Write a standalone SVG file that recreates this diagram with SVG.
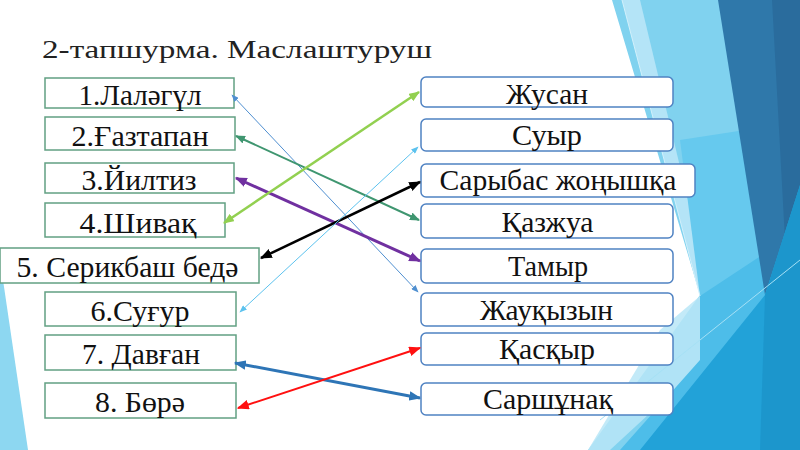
<svg xmlns="http://www.w3.org/2000/svg" width="800" height="450" viewBox="0 0 800 450">
<defs>
<style>
.lbox{fill:#fff;stroke:#62a083;stroke-width:1.5}
.rbox{fill:#fff;stroke:#4f82c2;stroke-width:1.5}
.conn{fill:none}
</style>
<marker id="mBt" viewBox="0 0 10 8" refX="9" refY="4" markerWidth="8" markerHeight="6" markerUnits="userSpaceOnUse" orient="auto-start-reverse"><path d="M0,0L10,4L0,8z" fill="#4f8fd0"/></marker>
<marker id="mLB" viewBox="0 0 10 8" refX="9" refY="4" markerWidth="8" markerHeight="6" markerUnits="userSpaceOnUse" orient="auto-start-reverse"><path d="M0,0L10,4L0,8z" fill="#5cc2ee"/></marker>
<marker id="mDG" viewBox="0 0 10 8" refX="9" refY="4" markerWidth="10" markerHeight="8" markerUnits="userSpaceOnUse" orient="auto-start-reverse"><path d="M0,0L10,4L0,8z" fill="#3f9670"/></marker>
<marker id="mLG" viewBox="0 0 10 8" refX="9" refY="4" markerWidth="11" markerHeight="9" markerUnits="userSpaceOnUse" orient="auto-start-reverse"><path d="M0,0L10,4L0,8z" fill="#92d050"/></marker>
<marker id="mPu" viewBox="0 0 10 8" refX="9" refY="4" markerWidth="12" markerHeight="10" markerUnits="userSpaceOnUse" orient="auto-start-reverse"><path d="M0,0L10,4L0,8z" fill="#7030a0"/></marker>
<marker id="mBk" viewBox="0 0 10 8" refX="9" refY="4" markerWidth="12" markerHeight="10" markerUnits="userSpaceOnUse" orient="auto-start-reverse"><path d="M0,0L10,4L0,8z" fill="#000"/></marker>
<marker id="mBl" viewBox="0 0 10 8" refX="9" refY="4" markerWidth="12" markerHeight="10" markerUnits="userSpaceOnUse" orient="auto-start-reverse"><path d="M0,0L10,4L0,8z" fill="#2e75b6"/></marker>
<marker id="mRd" viewBox="0 0 10 8" refX="9" refY="4" markerWidth="12" markerHeight="10" markerUnits="userSpaceOnUse" orient="auto-start-reverse"><path d="M0,0L10,4L0,8z" fill="#ff1010"/></marker>
</defs>
<rect width="800" height="450" fill="#fff"/>
<g id="background">
<polygon points="0,280 3,280 28,450 0,450" fill="#8dd7f1"/>
<polygon points="612,0 800,0 800,450 588,450 700,295" fill="#80d2ef"/>
<polygon points="622,0 640,0 712,300 700,296" fill="#b4e4f7"/>
<polygon points="680,140 745,130 765,295 700,296" fill="#66c9ee"/>
<polygon points="660,330 700,296 740,330 610,450 588,450" fill="#b8e6f7" opacity="0.85"/>
<polygon points="700,296 800,230 800,450 620,450 700,360" fill="#4dbde9"/>
<polygon points="718,0 800,0 800,190 765,295" fill="#2f78aa"/>
<polygon points="772,0 800,0 800,190 785,240" fill="#2a6c9d"/>
<polygon points="800,185 800,450 640,450 765,295" fill="#22a2d8"/>
<polygon points="765,295 800,185 800,450 760,450" fill="#1c96cc"/>
<polyline points="622,0 700,296" stroke="#d2f0fb" stroke-width="1" fill="none"/>
<polyline points="600,420 800,260" stroke="#a6e0f5" stroke-width="1" fill="none"/>
</g>
<text x="42" y="58" style="font-family:'Liberation Serif','Times New Roman',serif !important;font-size:26px" fill="#222" textLength="390" lengthAdjust="spacingAndGlyphs">2-тапшурма. Маслаштуруш</text>
<g id="nodes">
<g id="l1"><rect class="lbox" x="45" y="78" width="189" height="30"/><text style="font-family:'Liberation Serif','Times New Roman',serif !important;font-size:29px" fill="#111" text-anchor="middle" x="140" y="105" textLength="123" lengthAdjust="spacingAndGlyphs">1.Лаләгүл</text></g>
<g id="l2"><rect class="lbox" x="45" y="117" width="190" height="33"/><text style="font-family:'Liberation Serif','Times New Roman',serif !important;font-size:29px" fill="#111" text-anchor="middle" x="140" y="146" textLength="137" lengthAdjust="spacingAndGlyphs">2.Ғазтапан</text></g>
<g id="l3"><rect class="lbox" x="45" y="163" width="189" height="30"/><text style="font-family:'Liberation Serif','Times New Roman',serif !important;font-size:29px" fill="#111" text-anchor="middle" x="139" y="189.5" textLength="115" lengthAdjust="spacingAndGlyphs">3.Йилтиз</text></g>
<g id="l4"><rect class="lbox" x="45" y="203" width="180" height="34"/><text style="font-family:'Liberation Serif','Times New Roman',serif !important;font-size:29px" fill="#111" text-anchor="middle" x="138" y="232.5" textLength="117" lengthAdjust="spacingAndGlyphs">4.Шивақ</text></g>
<g id="l5"><rect class="lbox" x="0" y="248" width="259" height="35"/><text style="font-family:'Liberation Serif','Times New Roman',serif !important;font-size:29px" fill="#111" text-anchor="middle" x="127.5" y="277" textLength="222" lengthAdjust="spacingAndGlyphs">5. Серикбаш бедә</text></g>
<g id="l6"><rect class="lbox" x="45" y="292" width="191" height="34"/><text style="font-family:'Liberation Serif','Times New Roman',serif !important;font-size:29px" fill="#111" text-anchor="middle" x="140" y="321" textLength="99" lengthAdjust="spacingAndGlyphs">6.Суғур</text></g>
<g id="l7"><rect class="lbox" x="45" y="335" width="191" height="35"/><text style="font-family:'Liberation Serif','Times New Roman',serif !important;font-size:29px" fill="#111" text-anchor="middle" x="141" y="363.5" textLength="118" lengthAdjust="spacingAndGlyphs">7. Давған</text></g>
<g id="l8"><rect class="lbox" x="45" y="383" width="191" height="35"/><text style="font-family:'Liberation Serif','Times New Roman',serif !important;font-size:29px" fill="#111" text-anchor="middle" x="140" y="411.5" textLength="90" lengthAdjust="spacingAndGlyphs">8. Бөрә</text></g>
<g id="r1"><rect class="rbox" x="421" y="77" width="252" height="30" rx="5"/><text style="font-family:'Liberation Serif','Times New Roman',serif !important;font-size:29px" fill="#111" text-anchor="middle" x="547" y="103.5" textLength="82" lengthAdjust="spacingAndGlyphs">Жусан</text></g>
<g id="r2"><rect class="rbox" x="421" y="119" width="252" height="32" rx="5"/><text style="font-family:'Liberation Serif','Times New Roman',serif !important;font-size:29px" fill="#111" text-anchor="middle" x="547" y="145" textLength="70" lengthAdjust="spacingAndGlyphs">Суыр</text></g>
<g id="r3"><rect class="rbox" x="421" y="164" width="274" height="33" rx="5"/><text style="font-family:'Liberation Serif','Times New Roman',serif !important;font-size:29px" fill="#111" text-anchor="middle" x="558" y="190" textLength="237" lengthAdjust="spacingAndGlyphs">Сарыбас жоңышқа</text></g>
<g id="r4"><rect class="rbox" x="421" y="204" width="252" height="34" rx="5"/><text style="font-family:'Liberation Serif','Times New Roman',serif !important;font-size:29px" fill="#111" text-anchor="middle" x="547.5" y="231.5" textLength="92" lengthAdjust="spacingAndGlyphs">Қазжуа</text></g>
<g id="r5"><rect class="rbox" x="421" y="249" width="252" height="34" rx="5"/><text style="font-family:'Liberation Serif','Times New Roman',serif !important;font-size:29px" fill="#111" text-anchor="middle" x="548" y="276" textLength="80" lengthAdjust="spacingAndGlyphs">Тамыр</text></g>
<g id="r6"><rect class="rbox" x="421" y="293" width="252" height="33" rx="5"/><text style="font-family:'Liberation Serif','Times New Roman',serif !important;font-size:29px" fill="#111" text-anchor="middle" x="546.5" y="320" textLength="133" lengthAdjust="spacingAndGlyphs">Жауқызын</text></g>
<g id="r7"><rect class="rbox" x="421" y="333" width="252" height="32" rx="5"/><text style="font-family:'Liberation Serif','Times New Roman',serif !important;font-size:29px" fill="#111" text-anchor="middle" x="547" y="358.5" textLength="96" lengthAdjust="spacingAndGlyphs">Қасқыр</text></g>
<g id="r8"><rect class="rbox" x="421" y="383" width="252" height="32" rx="5"/><text style="font-family:'Liberation Serif','Times New Roman',serif !important;font-size:29px" fill="#111" text-anchor="middle" x="548" y="408.5" textLength="130" lengthAdjust="spacingAndGlyphs">Саршұнақ</text></g>
</g>
<g id="connectors">
<line class="conn" x1="232" y1="95" x2="418" y2="292" stroke="#4f8fd0" stroke-width="1" marker-start="url(#mBt)" marker-end="url(#mBt)"/>
<line class="conn" x1="236" y1="136" x2="419" y2="220" stroke="#3f9670" stroke-width="2" marker-start="url(#mDG)" marker-end="url(#mDG)"/>
<line class="conn" x1="236" y1="178" x2="420" y2="261" stroke="#7030a0" stroke-width="3" marker-start="url(#mPu)" marker-end="url(#mPu)"/>
<line class="conn" x1="224" y1="223" x2="419" y2="92" stroke="#92d050" stroke-width="2.5" marker-start="url(#mLG)" marker-end="url(#mLG)"/>
<line class="conn" x1="261" y1="258" x2="420" y2="182" stroke="#000" stroke-width="2.5" marker-start="url(#mBk)" marker-end="url(#mBk)"/>
<line class="conn" x1="240" y1="312" x2="418" y2="147" stroke="#5cc2ee" stroke-width="1" marker-start="url(#mLB)" marker-end="url(#mLB)"/>
<line class="conn" x1="235" y1="363" x2="420" y2="398" stroke="#2e75b6" stroke-width="3" marker-start="url(#mBl)" marker-end="url(#mBl)"/>
<line class="conn" x1="238" y1="408" x2="420" y2="348" stroke="#ff1010" stroke-width="2" marker-start="url(#mRd)" marker-end="url(#mRd)"/>
</g>
</svg>
